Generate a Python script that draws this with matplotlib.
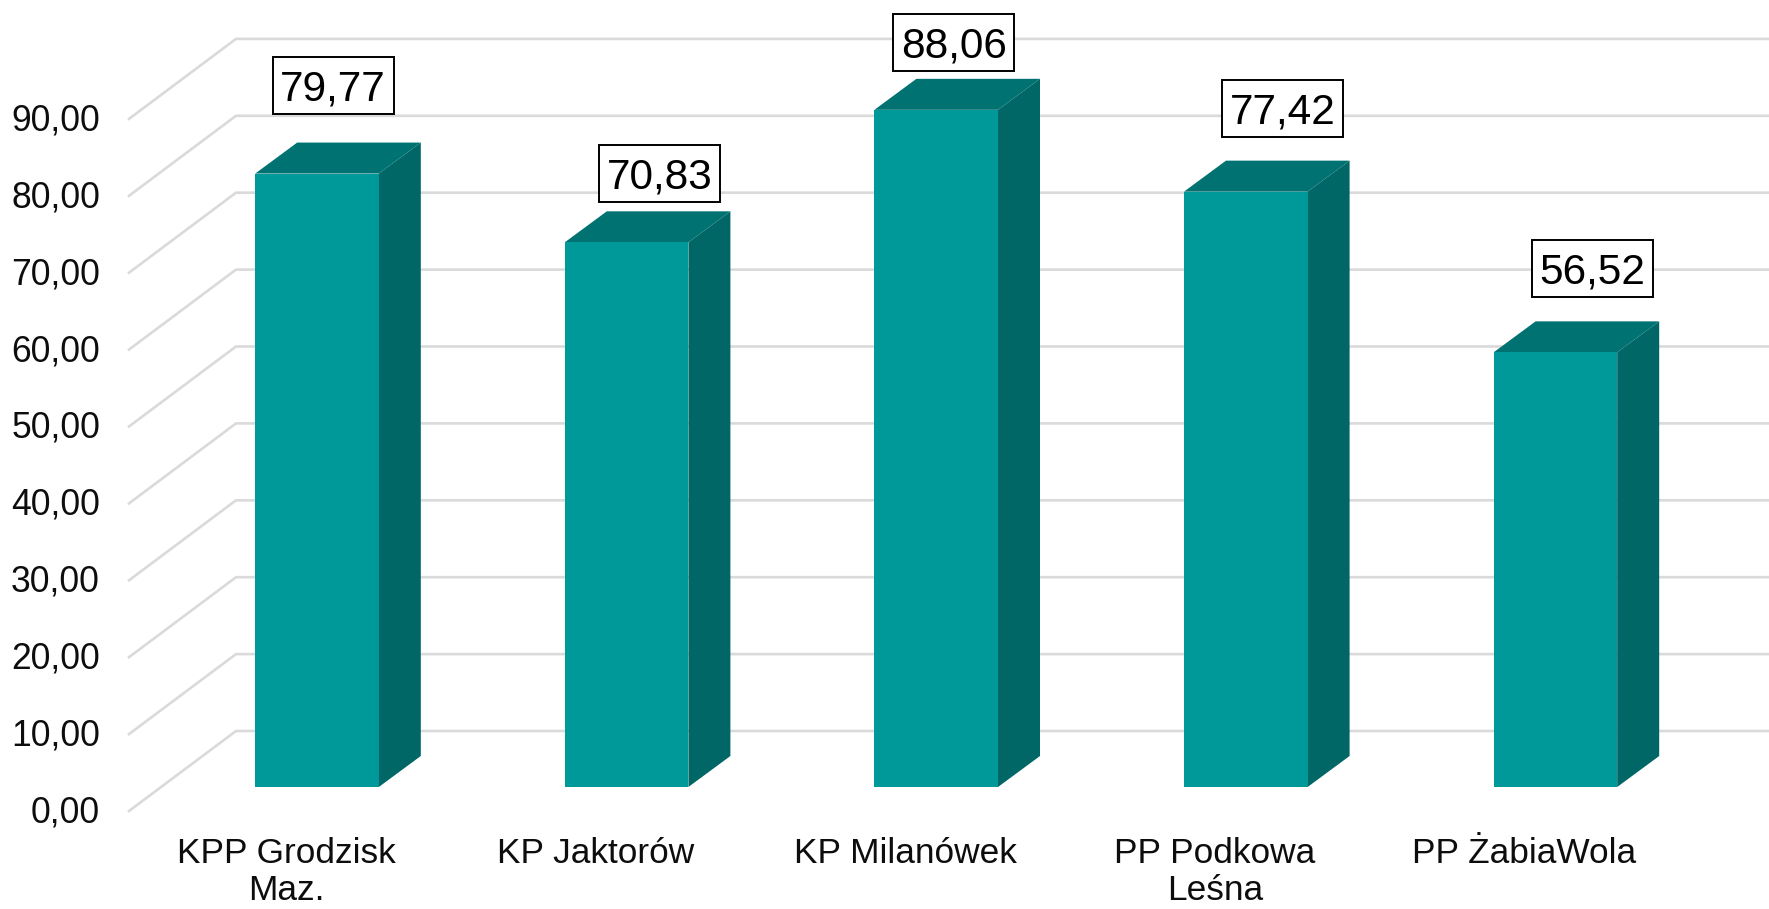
import matplotlib
matplotlib.use("Agg")
import matplotlib.pyplot as plt
from matplotlib.patches import Polygon, Rectangle

categories = ["KPP Grodzisk\nMaz.", "KP Jaktorów", "KP Milanówek", "PP Podkowa\nLeśna", "PP ŻabiaWola"]
values = [79.77, 70.83, 88.06, 77.42, 56.52]
value_labels = ["79,77", "70,83", "88,06", "77,42", "56,52"]
y_ticks = [0, 10, 20, 30, 40, 50, 60, 70, 80, 90]
y_tick_labels = ["0,00", "10,00", "20,00", "30,00", "40,00", "50,00", "60,00", "70,00", "80,00", "90,00"]

W, H = 1769, 909
PX_PER_VALUE = 7.69
PX_PER_CAT = 309.6
X0_PX, Y0_PX = 317.0, 787.0

plt.rcParams['font.family'] = ['Liberation Sans', 'DejaVu Sans']
fig = plt.figure(figsize=(W / 100, H / 100), dpi=100)
ax = fig.add_axes([0, 0, 1, 1])
ax.set_xlim((0 - X0_PX) / PX_PER_CAT, (W - X0_PX) / PX_PER_CAT)
ax.set_ylim((Y0_PX - H) / PX_PER_VALUE, Y0_PX / PX_PER_VALUE)
ax.axis("off")

def dx(px):
    return px / PX_PER_CAT

def dv(px):
    return px / PX_PER_VALUE

GRID = "#DADADA"
FRONT = "#009999"
SIDE = "#006666"
TOP = "#007272"
TEXT = "#0D0D0D"

grid_front_x = dx(129 - X0_PX)
grid_back_x = dx(236 - X0_PX)
grid_end_x = ax.get_xlim()[1]
grid_front_dv = dv(Y0_PX - 811)
grid_back_dv = dv(Y0_PX - 731)
for t in y_ticks:
    ax.plot([grid_front_x, grid_back_x, grid_end_x],
            [t + grid_front_dv, t + grid_back_dv, t + grid_back_dv],
            color=GRID, lw=1.9, solid_joinstyle="miter", zorder=1)

half = dx(61.8)
ox, ov = dx(42), dv(31)
for i, v in enumerate(values):
    l, r = i - half, i + half
    ax.add_patch(Polygon([(r, 0), (r + ox, ov), (r + ox, v + ov), (r, v)], fc=SIDE, ec="none", zorder=2))
    ax.add_patch(Polygon([(l, v), (r, v), (r + ox, v + ov), (l + ox, v + ov)], fc=TOP, ec="none", zorder=2))
    ax.add_patch(Polygon([(l, 0), (r, 0), (r, v), (l, v)], fc=FRONT, ec="none", zorder=3))

label_dx = [16, 33, 17.5, 37, 37]
label_dy = [88, 69, 67, 83, 84]
box_w, box_h = dx(121), dv(57)
for i, (v, s) in enumerate(zip(values, value_labels)):
    cx, cy = i + dx(label_dx[i]), v + dv(label_dy[i])
    ax.add_patch(Rectangle((cx - box_w / 2, cy - box_h / 2), box_w, box_h,
                           fc="white", ec="black", lw=1.4, zorder=5))
    ax.text(cx, cy - dv(4), s, fontsize=30.5, color="black", ha="center", va="center", zorder=6)

for t, s in zip(y_ticks, y_tick_labels):
    ax.text(dx(100 - X0_PX), t + grid_front_dv - dv(2), s, fontsize=25.6, color=TEXT, ha="right", va="center")

for i, c in enumerate(categories):
    ax.text(i + dx(-31), dv(Y0_PX - 837), c, fontsize=25.4, color=TEXT, ha="center", va="top",
            linespacing=1.15)

fig.savefig("out.png", dpi=100, facecolor="white")
